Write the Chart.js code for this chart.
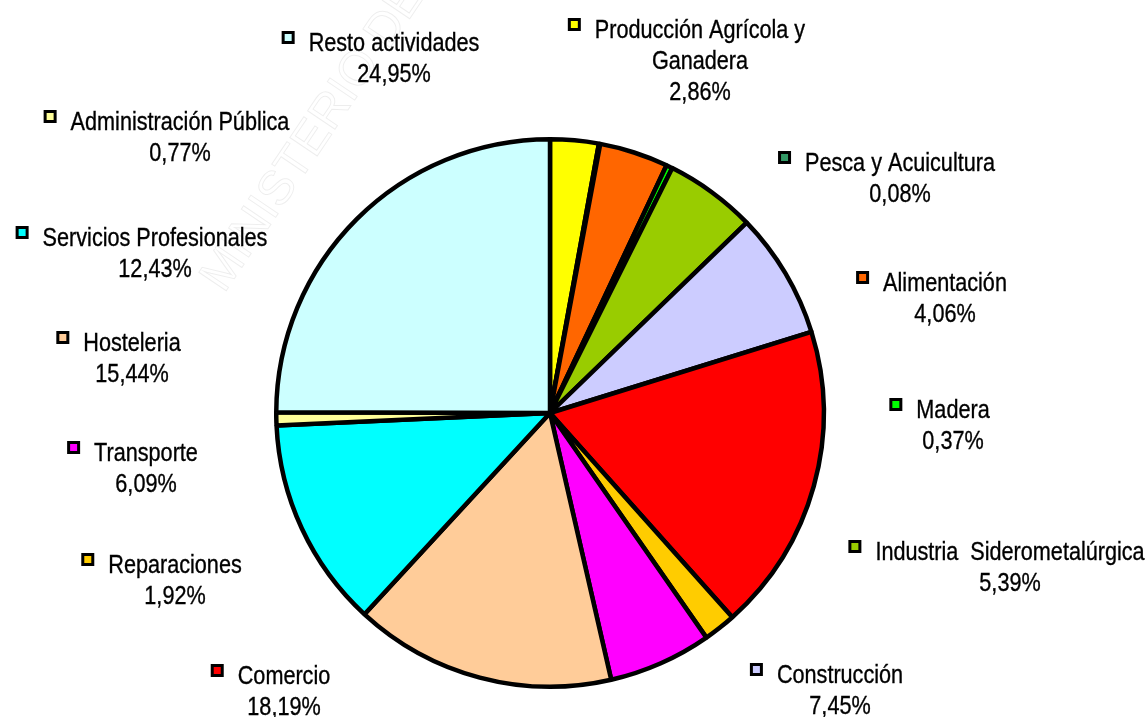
<!DOCTYPE html>
<html>
<head>
<meta charset="utf-8">
<script src="https://cdn.jsdelivr.net/npm/chart.js@4/dist/chart.umd.min.js"></script>
<style>
  html, body { margin: 0; padding: 0; background: #ffffff; }
  #wrap { width: 1146px; height: 717px; }
</style>
</head>
<body>
<div id="wrap"><canvas id="c" width="1146" height="717"></canvas></div>
<script>
// Sectores de actividad (orden horario desde las 12)
const categories = [
  ['Producción Agrícola y', 'Ganadera'],
  ['Pesca y Acuicultura'],
  ['Alimentación'],
  ['Madera'],
  ['Industria  Siderometalúrgica'],
  ['Construcción'],
  ['Comercio'],
  ['Reparaciones'],
  ['Transporte'],
  ['Hosteleria'],
  ['Servicios Profesionales'],
  ['Administración Pública'],
  ['Resto actividades']
];

// Porcentaje de cada sector
const shares = [2.86, 0.08, 4.06, 0.37, 5.39, 7.45, 18.19, 1.92, 6.09, 15.44, 12.43, 0.77, 24.95];

const sliceColors = [
  '#FFFF00', '#339966', '#FF6600', '#00FF00', '#99CC00', '#CCCCFF', '#FF0000',
  '#FFCC00', '#FF00FF', '#FFCC99', '#00FFFF', '#FFFF99', '#CCFFFF'
];

// Posición de cada etiqueta: centro horizontal del bloque y centro de la primera línea
const labelSpots = [
  [700, 29], [900, 162], [945, 282], [953, 409], [1010, 551], [840, 674],
  [284, 675], [175, 564], [146, 452], [132, 342], [155, 237], [180, 121], [394, 42]
];

const FONT_PX = 25;
const X_SCALE = 0.865;
const LINE_GAP = 31;

function pct(v) {
  return v.toFixed(2).replace('.', ',') + '%';
}

// Marca de agua tenue, girada, detrás de la tarta
const watermark = {
  id: 'watermark',
  beforeDatasetsDraw(chart) {
    const ctx = chart.ctx;
    ctx.save();
    ctx.translate(224, 294);
    ctx.rotate(-56 * Math.PI / 180);
    ctx.font = '48px "Liberation Sans", Arial, sans-serif';
    ctx.strokeStyle = 'rgba(0,0,0,0.07)';
    ctx.lineWidth = 1;
    ctx.textBaseline = 'alphabetic';
    ctx.strokeText('MINISTERIO DE', 0, 0);
    ctx.restore();
  }
};

// Etiquetas con marcador de color, nombre y porcentaje
const sliceLabels = {
  id: 'sliceLabels',
  afterDraw(chart) {
    const ctx = chart.ctx;
    const labels = chart.data.labels;
    const values = chart.data.datasets[0].data;
    const colors = chart.data.datasets[0].backgroundColor;
    ctx.save();
    ctx.font = FONT_PX + 'px "Liberation Sans", Arial, sans-serif';
    ctx.textBaseline = 'alphabetic';
    ctx.lineWidth = 0.35;
    ctx.strokeStyle = '#000000';
    labels.forEach((lines, i) => {
      const [cx, cy] = labelSpots[i];
      const all = lines.concat([pct(values[i])]);
      all.forEach((t, k) => {
        const w = ctx.measureText(t).width * X_SCALE;
        const left = cx - w / 2;
        const base = cy + k * LINE_GAP + FONT_PX * 0.358;
        ctx.save();
        ctx.translate(left, base);
        ctx.scale(X_SCALE, 1);
        ctx.fillStyle = '#000000';
        ctx.fillText(t, 0, 0);
        ctx.strokeText(t, 0, 0);
        ctx.restore();
        if (k === 0) {
          const mx = left - 27;
          const my = cy - 11;
          ctx.fillStyle = '#000000';
          ctx.fillRect(mx, my, 13, 13);
          ctx.fillStyle = colors[i];
          ctx.fillRect(mx + 3, my + 3, 7, 7);
        }
      });
    });
    ctx.restore();
  }
};

new Chart(document.getElementById('c'), {
  type: 'pie',
  data: {
    labels: categories,
    datasets: [{
      data: shares,
      backgroundColor: sliceColors,
      borderColor: '#000000',
      borderWidth: 4.5
    }]
  },
  options: {
    responsive: false,
    devicePixelRatio: 1,
    animation: false,
    layout: { padding: { left: 274, right: 320, top: 137, bottom: 28 } },
    plugins: {
      legend: { display: false },
      tooltip: { enabled: false }
    }
  },
  plugins: [watermark, sliceLabels]
});
</script>
</body>
</html>
